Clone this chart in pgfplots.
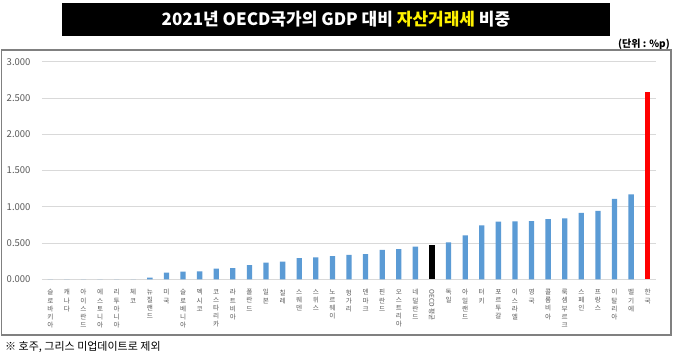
\documentclass[border=0pt]{standalone}
\usepackage{pgfplots}
\pgfplotsset{compat=1.18}
\usepackage{graphicx}
\usepackage{fontspec}
\setmainfont{Noto Sans CJK KR}
\definecolor{barblue}{HTML}{5B9BD5}
\definecolor{tickgray}{HTML}{595959}
\definecolor{gridgray}{HTML}{D9D9D9}
\definecolor{framegray}{HTML}{808080}
\begin{document}
\begin{tikzpicture}
\path[use as bounding box] (0pt,0pt) rectangle (680pt,357pt);
\fill[white] (0pt,0pt) rectangle (680pt,357pt);
\begin{axis}[
  at={(42pt,77.7pt)}, anchor=south west,
  scale only axis, width=614pt, height=217.6pt,
  xmin=-0.5, xmax=36.5, ymin=0, ymax=3,
  ytick={0,0.5,...,3},
  xtick={0,...,36},
  xticklabels={
    {슬\\로\\바\\키\\아},
    {캐\\나\\다},
    {아\\이\\스\\란\\드},
    {에\\스\\토\\니\\아},
    {리\\투\\아\\니\\아},
    {체\\코},
    {뉴\\질\\랜\\드},
    {미\\국},
    {슬\\로\\베\\니\\아},
    {멕\\시\\코},
    {코\\스\\타\\리\\카},
    {라\\트\\비\\아},
    {폴\\란\\드},
    {일\\본},
    {칠\\레},
    {스\\웨\\덴},
    {스\\위\\스},
    {노\\르\\웨\\이},
    {헝\\가\\리},
    {덴\\마\\크},
    {핀\\란\\드},
    {오\\스\\트\\리\\아},
    {네\\덜\\란\\드},
    {\rotatebox{-90}{OECD 평균}},
    {독\\일},
    {아\\일\\랜\\드},
    {터\\키},
    {포\\르\\투\\갈},
    {이\\스\\라\\엘},
    {영\\국},
    {콜\\롬\\비\\아},
    {룩\\셈\\부\\르\\크},
    {스\\페\\인},
    {프\\랑\\스},
    {이\\탈\\리\\아},
    {벨\\기\\에},
    {한\\국}},
  axis line style={draw=none},
  major tick length=0pt,
  ymajorgrids, grid style={draw=gridgray, line width=0.9pt},
  xticklabel style={font=\fontsize{6.6}{8.1}\selectfont, text=tickgray, align=center, anchor=north, inner sep=0pt, yshift=-10pt},
  yticklabel style={font=\fontsize{9.5}{10}\selectfont, text=tickgray, anchor=east, xshift=-8pt},
  /pgf/number format/assume math mode=true,
  yticklabel={\pgfmathprintnumber[fixed,fixed zerofill,precision=3]{\tick}},
  ybar, bar width=5.3pt, bar shift=0pt,
  clip=false,
]
\addplot[fill=barblue, draw=none] coordinates {
(0,0) (1,0) (2,0) (3,0) (4,0) (5,0) (6,0.023) (7,0.092) (8,0.105) (9,0.110)
(10,0.148) (11,0.153) (12,0.194) (13,0.231) (14,0.245) (15,0.292) (16,0.301)
(17,0.319) (18,0.338) (19,0.347) (20,0.407) (21,0.417) (22,0.449)
(24,0.510) (25,0.606) (26,0.743) (27,0.794) (28,0.797) (29,0.803) (30,0.830)
(31,0.839) (32,0.917) (33,0.945) (34,1.110) (35,1.170)};
\addplot[fill=black, draw=none] coordinates {(23,0.472)};
\addplot[fill=red, draw=none] coordinates {(36,2.587)};
\end{axis}
% title
\fill[black] (62pt,321pt) rectangle (610pt,354pt);
\node[text=white, font=\fontsize{17}{20}\selectfont\bfseries] at (336pt,337.5pt)
  {2021년 OECD국가의 GDP 대비 \textcolor{yellow}{자산거래세} 비중};
\node[anchor=east, font=\fontsize{10}{12}\selectfont\bfseries, inner sep=0pt] at (670pt,312.5pt) {(단위 : \%p)};
\draw[framegray, line width=1.2pt] (1.5pt,307pt) rectangle (671pt,22pt);
\node[anchor=west, font=\fontsize{11}{12}\selectfont, inner sep=0pt] at (5pt,10.5pt) {※ 호주, 그리스 미업데이트로 제외};
\end{tikzpicture}
\end{document}
